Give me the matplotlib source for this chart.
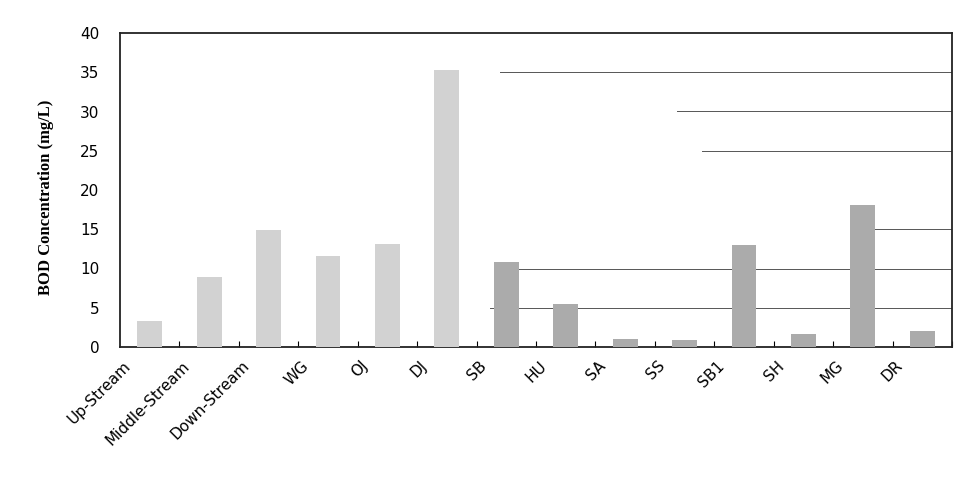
import matplotlib
matplotlib.use("Agg")
import matplotlib.pyplot as plt
import matplotlib.transforms as mtransforms
import numpy as np

categories = ["Up-Stream", "Middle-Stream", "Down-Stream", "WG", "OJ", "DJ", "SB",
              "HU", "SA", "SS", "SB1", "SH", "MG", "DR"]
bod_values = [3.3, 8.9, 14.9, 11.6, 13.1, 35.3, 10.8, 5.5, 1.0, 0.9, 13.0, 1.7, 18.1, 2.0]
y_ticks = [0, 5, 10, 15, 20, 25, 30, 35, 40]

fig = plt.figure(figsize=(9.73, 4.79), dpi=100)
ax = fig.add_axes([120/973, 1-347/479, 832/973, 314/479])

x = np.arange(len(categories))
colors = ["#d2d2d2"] * 6 + ["#ababab"] * 8
ax.bar(x, bod_values, width=0.42, color=colors, edgecolor="none", zorder=3)

# partial faint gridlines (as in scanned reference)
grid_spans = {35: (0.457, 1.0), 30: (0.67, 1.0), 25: (0.70, 1.0),
              15: (0.88, 1.0), 10: (0.475, 1.0), 5: (0.445, 1.0)}
for yv, (a, b) in grid_spans.items():
    ax.axhline(yv, a, b, color="#555555", lw=0.7, zorder=1)

ax.set_xlim(-0.5, len(categories) - 0.5)
ax.set_ylim(0, 40)
ax.set_yticks(y_ticks)
ax.set_yticklabels([str(v) for v in y_ticks], fontsize=11, fontfamily="DejaVu Sans")
ax.tick_params(axis="y", length=0, pad=15)

ax.set_xticks(x + 0.5, minor=False)
ax.set_xticklabels([])
ax.tick_params(axis="x", which="major", length=4, direction="in")
ax.set_xticks(x, minor=True)
ax.set_xticklabels(categories, minor=True, rotation=45, ha="right",
                   rotation_mode="anchor", fontsize=11, fontfamily="DejaVu Sans")
ax.tick_params(axis="x", which="minor", length=0, pad=8)
offset = mtransforms.ScaledTranslation(-27/100, 0, fig.dpi_scale_trans)
for lab in ax.xaxis.get_minorticklabels():
    lab.set_transform(lab.get_transform() + offset)

for s in ax.spines.values():
    s.set_linewidth(1.3)
    s.set_color("#222222")

ax.set_ylabel("BOD Concentration (mg/L)", fontfamily="Liberation Serif",
              fontweight="bold", fontsize=12)
ax.yaxis.set_label_coords(-0.079, 0.478)

fig.savefig("out.png", dpi=100)
